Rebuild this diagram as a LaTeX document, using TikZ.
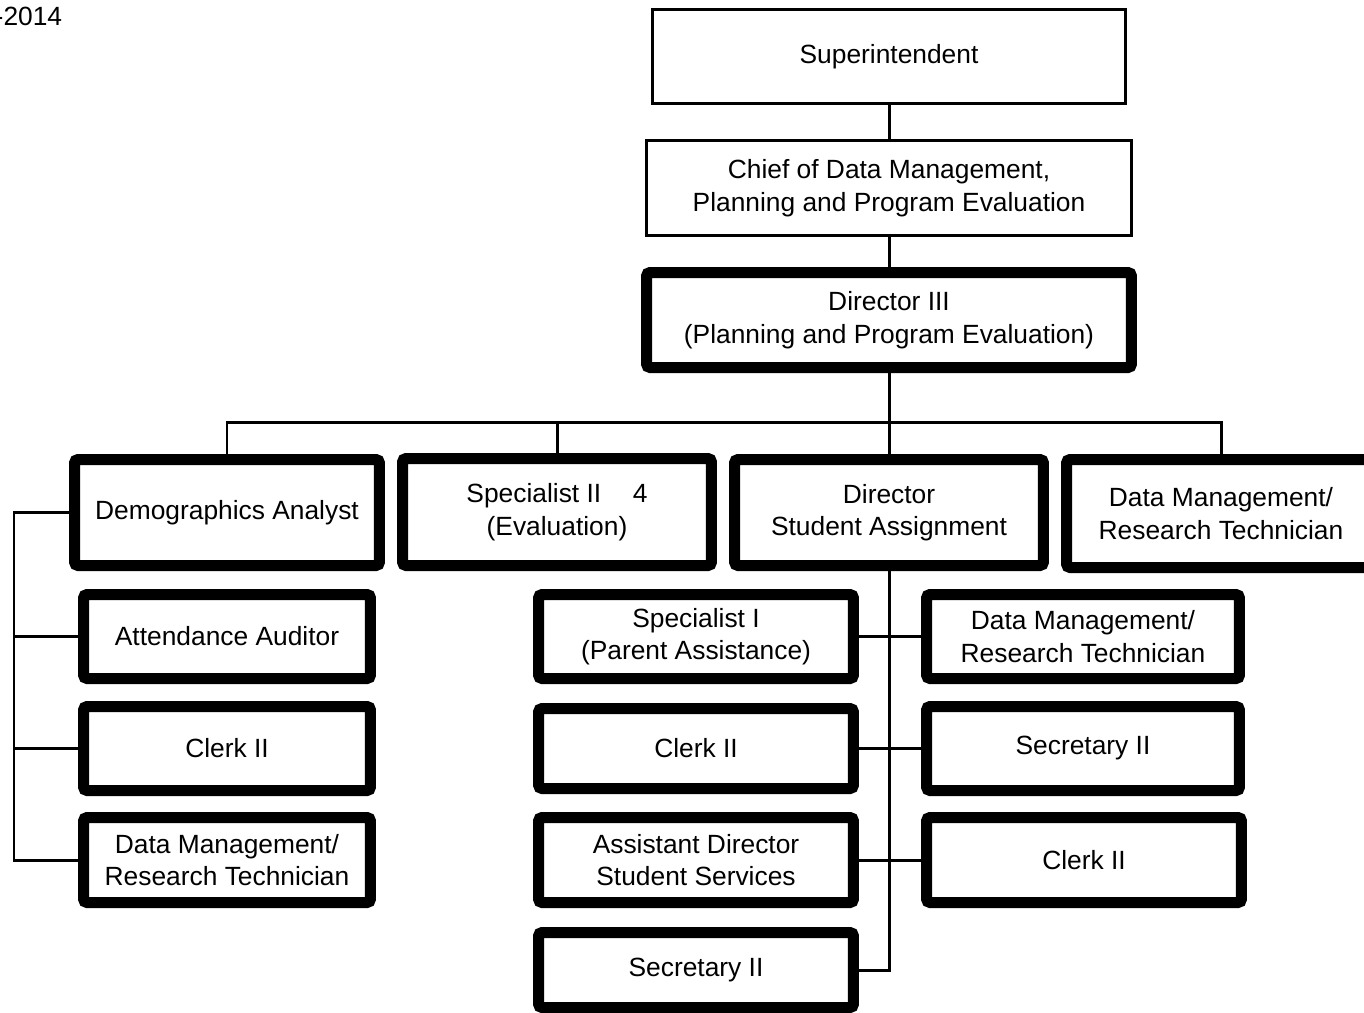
\documentclass[tikz,border=0pt]{standalone}
\usepackage{fontspec}
\setmainfont{Liberation Sans}
\begin{document}
\begin{tikzpicture}[x=0.02cm,y=-0.02cm,
  font=\fontsize{15}{18.5}\selectfont,
  box/.style={draw, line width=6.26pt, rounded corners=2pt, align=center, inner sep=0pt, fill=white},
  thinbox/.style={draw, line width=1.7pt, align=center, inner sep=0pt, fill=white},
  conn/.style={line width=1.7pt}]
\useasboundingbox (0,0) rectangle (1364,1012);

\node[anchor=east, inner sep=0pt] (yr) at (62.5,16.5) {-2014};

% top chain
\node[thinbox, minimum width=9.46cm, minimum height=1.88cm] (sup) at (889,56.5) {Superintendent};
\node[thinbox, minimum width=9.70cm, minimum height=1.90cm] (chief) at (889,188) {Chief of Data Management,\\Planning and Program Evaluation};
\node[box, minimum width=9.70cm, minimum height=1.90cm] (dir3) at (889,320) {Director III\\(Planning and Program Evaluation)};

% second level
\node[box, minimum width=6.10cm, minimum height=2.12cm] (demo) at (227,512.5) {Demographics Analyst};
\node[box, minimum width=6.18cm, minimum height=2.14cm] (spec2) at (557,512) {Specialist II\hspace{1.2em}4\\(Evaluation)};
\node[box, minimum width=6.18cm, minimum height=2.12cm] (dsa) at (889,512.5) {Director\\Student Assignment};
\node[box, minimum width=6.18cm, minimum height=2.16cm] (dmr) at (1221,513.5) {Data Management/\\Research Technician};

% left column
\node[box, minimum width=5.74cm, minimum height=1.68cm] (att) at (227,636.5) {Attendance Auditor};
\node[box, minimum width=5.74cm, minimum height=1.68cm] (clerkL) at (227,748.5) {Clerk II};
\node[box, minimum width=5.74cm, minimum height=1.70cm] (dmrL) at (227,860) {Data Management/\\Research Technician};

% middle column
\node[box, minimum width=6.30cm, minimum height=1.68cm] (spec1) at (696,636.5) {Specialist I\\(Parent Assistance)};
\node[box, minimum width=6.30cm, minimum height=1.60cm] (clerkM) at (696,748.5) {Clerk II};
\node[box, minimum width=6.30cm, minimum height=1.70cm] (asd) at (696,860) {Assistant Director\\Student Services};
\node[box, minimum width=6.30cm, minimum height=1.50cm] (secM) at (696,970) {Secretary II};

% right column
\node[box, minimum width=6.26cm, minimum height=1.68cm] (dmrR) at (1083,636.5) {Data Management/\\Research Technician};
\node[box, minimum width=6.26cm, minimum height=1.68cm] (secR) at (1083,748.5) {Secretary II};
\node[box, minimum width=6.30cm, minimum height=1.70cm] (clerkR) at (1084,860) {Clerk II};

% connectors
\coordinate (bus) at (889,422);
\coordinate (lb) at (14,0);
\draw[conn] (sup.south) -- (chief.north);
\draw[conn] (chief.south) -- (dir3.north);
\draw[conn] (dir3.south) -- (dsa.north);
\draw[conn] (demo.north) |- (dmr.north |- bus) -- (dmr.north);
\draw[conn] (spec2.north) -- (spec2.north |- bus);

\draw[conn] (demo.west) -- (demo.west -| lb) |- (dmrL.west);
\draw[conn] (att.west) -- (att.west -| lb);
\draw[conn] (clerkL.west) -- (clerkL.west -| lb);

\draw[conn] (dsa.south) |- (secM.east);
\draw[conn] (spec1.east) -- (dmrR.west);
\draw[conn] (clerkM.east) -- (secR.west);
\draw[conn] (asd.east) -- (clerkR.west);
\end{tikzpicture}
\end{document}
